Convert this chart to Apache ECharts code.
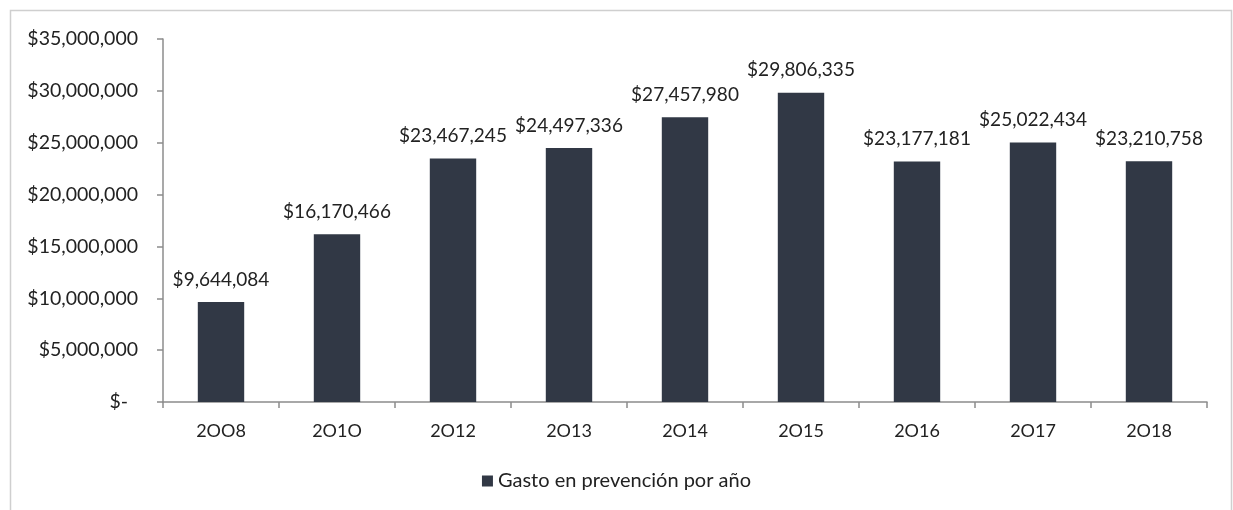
<!DOCTYPE html>
<html>
<head>
<meta charset="utf-8">
<script src="https://cdn.jsdelivr.net/npm/echarts@6/dist/echarts.min.js"></script>
<style>
  html, body { margin: 0; padding: 0; background: #fff; }
  #chart { width: 1233px; height: 510px; }
</style>
</head>
<body>
<div id="chart"></div>
<script>
// Annual prevention spending
const categories = ['2OO8', '2O1O', '2O12', '2O13', '2O14', '2O15', '2O16', '2O17', '2O18'];
const gasto = [9644084, 16170466, 23467245, 24497336, 27457980, 29806335, 23177181, 25022434, 23210758];
const seriesName = 'Gasto en prevención por año';

const fmt = v => '$' + v.toLocaleString('en-US');
const FONT = 'Lato, "Open Sans", sans-serif';

const chart = echarts.init(document.getElementById('chart'));
chart.setOption({
  animation: false,
  backgroundColor: '#fff',
  graphic: [{
    type: 'rect',
    shape: { x: 10.5, y: 10.5, width: 1221, height: 520 },
    style: { fill: 'none', stroke: '#cfcfcf', lineWidth: 1.5 },
    silent: true, z: -1
  }],
  grid: { left: 163, right: 26, top: 39, bottom: 108, containLabel: false },
  legend: {
    data: [seriesName],
    bottom: 14,
    left: 'center',
    icon: 'rect',
    itemWidth: 11,
    itemHeight: 11,
    itemGap: 5,
    textStyle: { fontFamily: FONT, fontSize: 20, color: '#222' }
  },
  xAxis: {
    type: 'category',
    data: categories,
    axisLine: { lineStyle: { color: '#8c8c8c', width: 1.5 } },
    axisTick: { show: true, length: 6, lineStyle: { color: '#8c8c8c', width: 1.5 } },
    axisLabel: { fontFamily: FONT, fontSize: 18, color: '#222', margin: 20 }
  },
  yAxis: {
    type: 'value',
    min: 0,
    max: 35000000,
    interval: 5000000,
    splitLine: { show: false },
    axisLine: { show: true, lineStyle: { color: '#8c8c8c', width: 1.5 } },
    axisTick: { show: true, length: 6, lineStyle: { color: '#8c8c8c', width: 1.5 } },
    axisLabel: {
      fontFamily: FONT, fontSize: 19.5, color: '#222', margin: 25,
      formatter: v => v === 0 ? '$-  ' : fmt(v)
    }
  },
  series: [{
    name: seriesName,
    type: 'bar',
    data: gasto,
    barWidth: '40%',
    itemStyle: { color: '#313845' },
    label: {
      show: true,
      position: 'top',
      distance: 13,
      fontFamily: FONT,
      fontSize: 19,
      color: '#222',
      formatter: p => fmt(p.value)
    }
  }]
});
</script>
</body>
</html>
